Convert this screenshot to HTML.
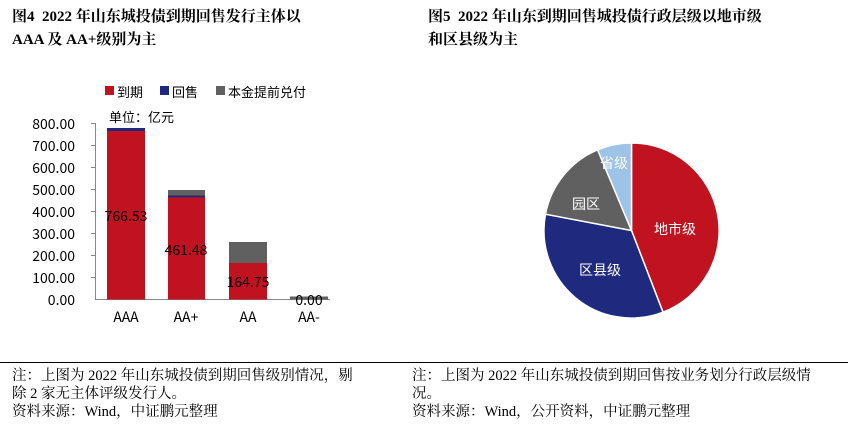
<!DOCTYPE html>
<html><head><meta charset="utf-8"><style>
body{margin:0;background:#fff;width:848px;height:436px;overflow:hidden;font-family:"Liberation Serif","Noto Serif CJK SC",serif;}
.t{position:absolute;font-weight:bold;font-size:15px;line-height:23px;color:#000;}
.n{position:absolute;font-size:14.5px;line-height:18px;color:#000;white-space:nowrap;}
</style></head><body>
<div class="t" style="left:12px;top:6px;width:400px">图4&nbsp; 2022 年山东城投债到期回售发行主体以<br>AAA 及 AA+级别为主</div>
<div class="t" style="left:428px;top:6px;width:410px">图5&nbsp; 2022 年山东到期回售城投债行政层级以地市级<br>和区县级为主</div>
<div style="position:absolute;left:0;top:362px;width:848px;border-top:1px solid #000"></div>
<div class="n" style="left:12px;top:367px;width:400px">注：上图为 2022 年山东城投债到期回售级别情况，剔<br>除 2 家无主体评级发行人。<br>资料来源：Wind，中证鹏元整理</div>
<div class="n" style="left:412px;top:367px;width:430px">注：上图为 2022 年山东城投债到期回售按业务划分行政层级情<br>况。<br>资料来源：Wind，公开资料，中证鹏元整理</div>
<svg style="position:absolute;left:0;top:0" width="848" height="436" font-family="Noto Sans CJK SC, sans-serif">
<g font-size="13">
<rect x="105" y="86" width="9" height="9" fill="#c0121f"/><text x="117" y="97">到期</text>
<rect x="160" y="86" width="9" height="9" fill="#1f2a7f"/><text x="172" y="97">回售</text>
<rect x="216" y="86" width="9" height="9" fill="#606060"/><text x="228" y="97">本金提前兑付</text>
<text x="109" y="122">单位：亿元</text>
</g>
<g font-size="14" text-anchor="end" fill="#000">
<text x="75" y="129">800.00</text><text x="75" y="151">700.00</text><text x="75" y="173">600.00</text><text x="75" y="195">500.00</text><text x="75" y="217">400.00</text><text x="75" y="239">300.00</text><text x="75" y="261">200.00</text><text x="75" y="283">100.00</text><text x="75" y="305">0.00</text>
</g>
<g stroke="#888" stroke-width="1">
<line x1="95.5" y1="123" x2="95.5" y2="299.5"/><line x1="95" y1="299.5" x2="330" y2="299.5"/>
<line x1="91" y1="123.5" x2="95" y2="123.5"/><line x1="91" y1="145.5" x2="95" y2="145.5"/><line x1="91" y1="167.5" x2="95" y2="167.5"/><line x1="91" y1="189.5" x2="95" y2="189.5"/><line x1="91" y1="211.5" x2="95" y2="211.5"/><line x1="91" y1="233.5" x2="95" y2="233.5"/><line x1="91" y1="255.5" x2="95" y2="255.5"/><line x1="91" y1="277.5" x2="95" y2="277.5"/>
</g>
<rect x="107" y="131" width="38" height="168.5" fill="#c0121f"/>
<rect x="107" y="128" width="38" height="3" fill="#1f2a7f"/>
<rect x="168" y="197" width="37" height="102.5" fill="#c0121f"/>
<rect x="168" y="195.5" width="37" height="1.8" fill="#1f2a7f"/>
<rect x="168" y="190" width="37" height="5.5" fill="#606060"/>
<rect x="229" y="263" width="38" height="36.5" fill="#c0121f"/>
<rect x="229" y="242" width="38" height="21" fill="#606060"/>
<rect x="290" y="296.5" width="38" height="3" fill="#606060"/>
<g font-size="14" text-anchor="middle">
<text x="126" y="221">766.53</text><text x="186" y="255">461.48</text><text x="248" y="287">164.75</text><text x="309" y="305">0.00</text>
<text x="126" y="322">AAA</text><text x="186" y="322">AA+</text><text x="248" y="322">AA</text><text x="309" y="322">AA-</text>
</g>
<g stroke="#fff" stroke-width="1.5">
<path d="M631.5 230.5 L631.5 143 A87.5 87.5 0 0 1 663 312.2 Z" fill="#c0121f"/>
<path d="M631.5 230.5 L663 312.2 A87.5 87.5 0 0 1 545.5 214.2 Z" fill="#1f2a7f"/>
<path d="M631.5 230.5 L545.5 214.2 A87.5 87.5 0 0 1 597.6 149.8 Z" fill="#606060"/>
<path d="M631.5 230.5 L597.6 149.8 A87.5 87.5 0 0 1 631.5 143 Z" fill="#9dc3e6"/>
</g>
<g font-size="14" fill="#fff" text-anchor="middle">
<text x="675" y="234">地市级</text><text x="600" y="275">区县级</text><text x="586" y="209">园区</text><text x="614" y="168">省级</text>
</g>
</svg>
</body></html>
